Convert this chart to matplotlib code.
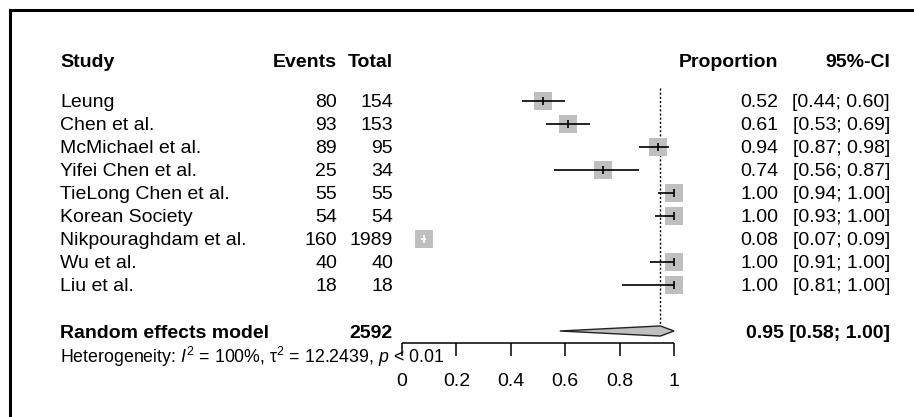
import matplotlib
matplotlib.use("Agg")
import matplotlib.pyplot as plt
from matplotlib.lines import Line2D

plt.rcParams["font.family"] = ["Liberation Sans", "DejaVu Sans"]
plt.rcParams["mathtext.fontset"] = "custom"
plt.rcParams["mathtext.rm"] = "Liberation Sans"
plt.rcParams["mathtext.it"] = "Liberation Sans:italic"

studies = ["Leung", "Chen et al.", "McMichael et al.", "Yifei Chen et al.",
           "TieLong Chen et al.", "Korean Society", "Nikpouraghdam et al.",
           "Wu et al.", "Liu et al."]
events = [80, 93, 89, 25, 55, 54, 160, 40, 18]
totals = [154, 153, 95, 34, 55, 54, 1989, 40, 18]
prop = [0.52, 0.61, 0.94, 0.74, 1.00, 1.00, 0.08, 1.00, 1.00]
lower = [0.44, 0.53, 0.87, 0.56, 0.94, 0.93, 0.07, 0.91, 0.81]
upper = [0.60, 0.69, 0.98, 0.87, 1.00, 1.00, 0.09, 1.00, 1.00]

re_est, re_lo, re_hi = 0.95, 0.58, 1.00
re_total = 2592
het_text = "Heterogeneity: $I^2$ = 100%, τ$^2$ = 12.2439, $p$ < 0.01"
xticks = [0, 0.2, 0.4, 0.6, 0.8, 1]
xticklabels = ["0", "0.2", "0.4", "0.6", "0.8", "1"]

W, H = 914, 417
fig = plt.figure(figsize=(W / 100, H / 100), dpi=100)
ax = fig.add_axes([0, 0, 1, 1])
ax.axis("off")

# pixel layout: x=0 at 402px, x=1 at 674px; rows 23px apart, first at 101px
x0, xs = 402, 272
y0, ys = 101, 23
ax.set_xlim(-x0 / xs, (W - x0) / xs)
ax.set_ylim((H - y0) / ys, -y0 / ys)


def px(p):
    return (p - x0) / xs


fs = 14
base = 0.26  # baseline offset from row centre
gray = "#bfbfbf"

# header
hy = -2 + base + 0.26
ax.text(px(60), hy, "Study", fontsize=fs, fontweight="bold", va="baseline")
ax.text(px(337), hy, "Events", fontsize=fs, fontweight="bold", va="baseline", ha="right")
ax.text(px(393), hy, "Total", fontsize=fs, fontweight="bold", va="baseline", ha="right")
ax.text(px(778), hy, "Proportion", fontsize=fs, fontweight="bold", va="baseline", ha="right")
ax.text(px(890), hy, "95%-CI", fontsize=fs, fontweight="bold", va="baseline", ha="right")

# dotted line at pooled estimate
ax.vlines(re_est, -0.57, 9.8, colors="black", linestyles=(0, (1.5, 1.5)), linewidth=1.0)

for i, name in enumerate(studies):
    y = i + base
    ax.text(px(60), y, name, fontsize=fs, va="baseline")
    ax.text(px(337), y, str(events[i]), fontsize=fs, va="baseline", ha="right")
    ax.text(px(393), y, str(totals[i]), fontsize=fs, va="baseline", ha="right")
    ax.text(px(778), y, f"{prop[i]:.2f}", fontsize=fs, va="baseline", ha="right")
    ax.text(px(890), y, f"[{lower[i]:.2f}; {upper[i]:.2f}]", fontsize=fs,
            va="baseline", ha="right")

    ax.plot(prop[i], i, marker="s", markersize=13, color=gray, markeredgewidth=0, zorder=2)
    half = 9 / 2 / xs
    inside = (prop[i] - lower[i] < half) and (upper[i] - prop[i] < half)
    c = "white" if inside else "black"
    ax.hlines(i, lower[i], upper[i], colors=c, linewidth=1.2, zorder=3)
    ax.vlines(prop[i], i - 0.17, i + 0.17, colors=c, linewidth=1.2, zorder=3)

# random effects row
ry = 10
ax.text(px(60), ry + base + 0.05, "Random effects model", fontsize=fs,
        fontweight="bold", va="baseline")
ax.text(px(393), ry + base + 0.05, str(re_total), fontsize=fs,
        fontweight="bold", va="baseline", ha="right")
ax.text(px(890), ry + base + 0.05, f"{re_est:.2f} [{re_lo:.2f}; {re_hi:.2f}]",
        fontsize=fs, fontweight="bold", va="baseline", ha="right")
dh = 0.22
ax.fill([re_lo, re_est, re_hi, re_est], [ry, ry - dh, ry, ry + dh],
        facecolor=gray, edgecolor="#222222", linewidth=1.0, zorder=3)

ax.text(px(60), 11.39, het_text, fontsize=12.8, va="baseline")

# x axis
ay = 10.52
ax.hlines(ay, xticks[0], xticks[-1], colors="black", linewidth=1.1)
ax.vlines(xticks, ay, 11.09, colors="black", linewidth=1.1)
for t, lab in zip(xticks, xticklabels):
    ax.text(t, 12.4, lab, fontsize=fs, ha="center", va="baseline")

# frame (top and left edges)
fig.add_artist(Line2D([10 / W, 1], [1 - 10 / H, 1 - 10 / H], color="black",
                      linewidth=2.2, transform=fig.transFigure))
fig.add_artist(Line2D([10 / W, 10 / W], [0, 1 - 10 / H], color="black",
                      linewidth=2.2, transform=fig.transFigure))

fig.savefig("out.png", dpi=100)
